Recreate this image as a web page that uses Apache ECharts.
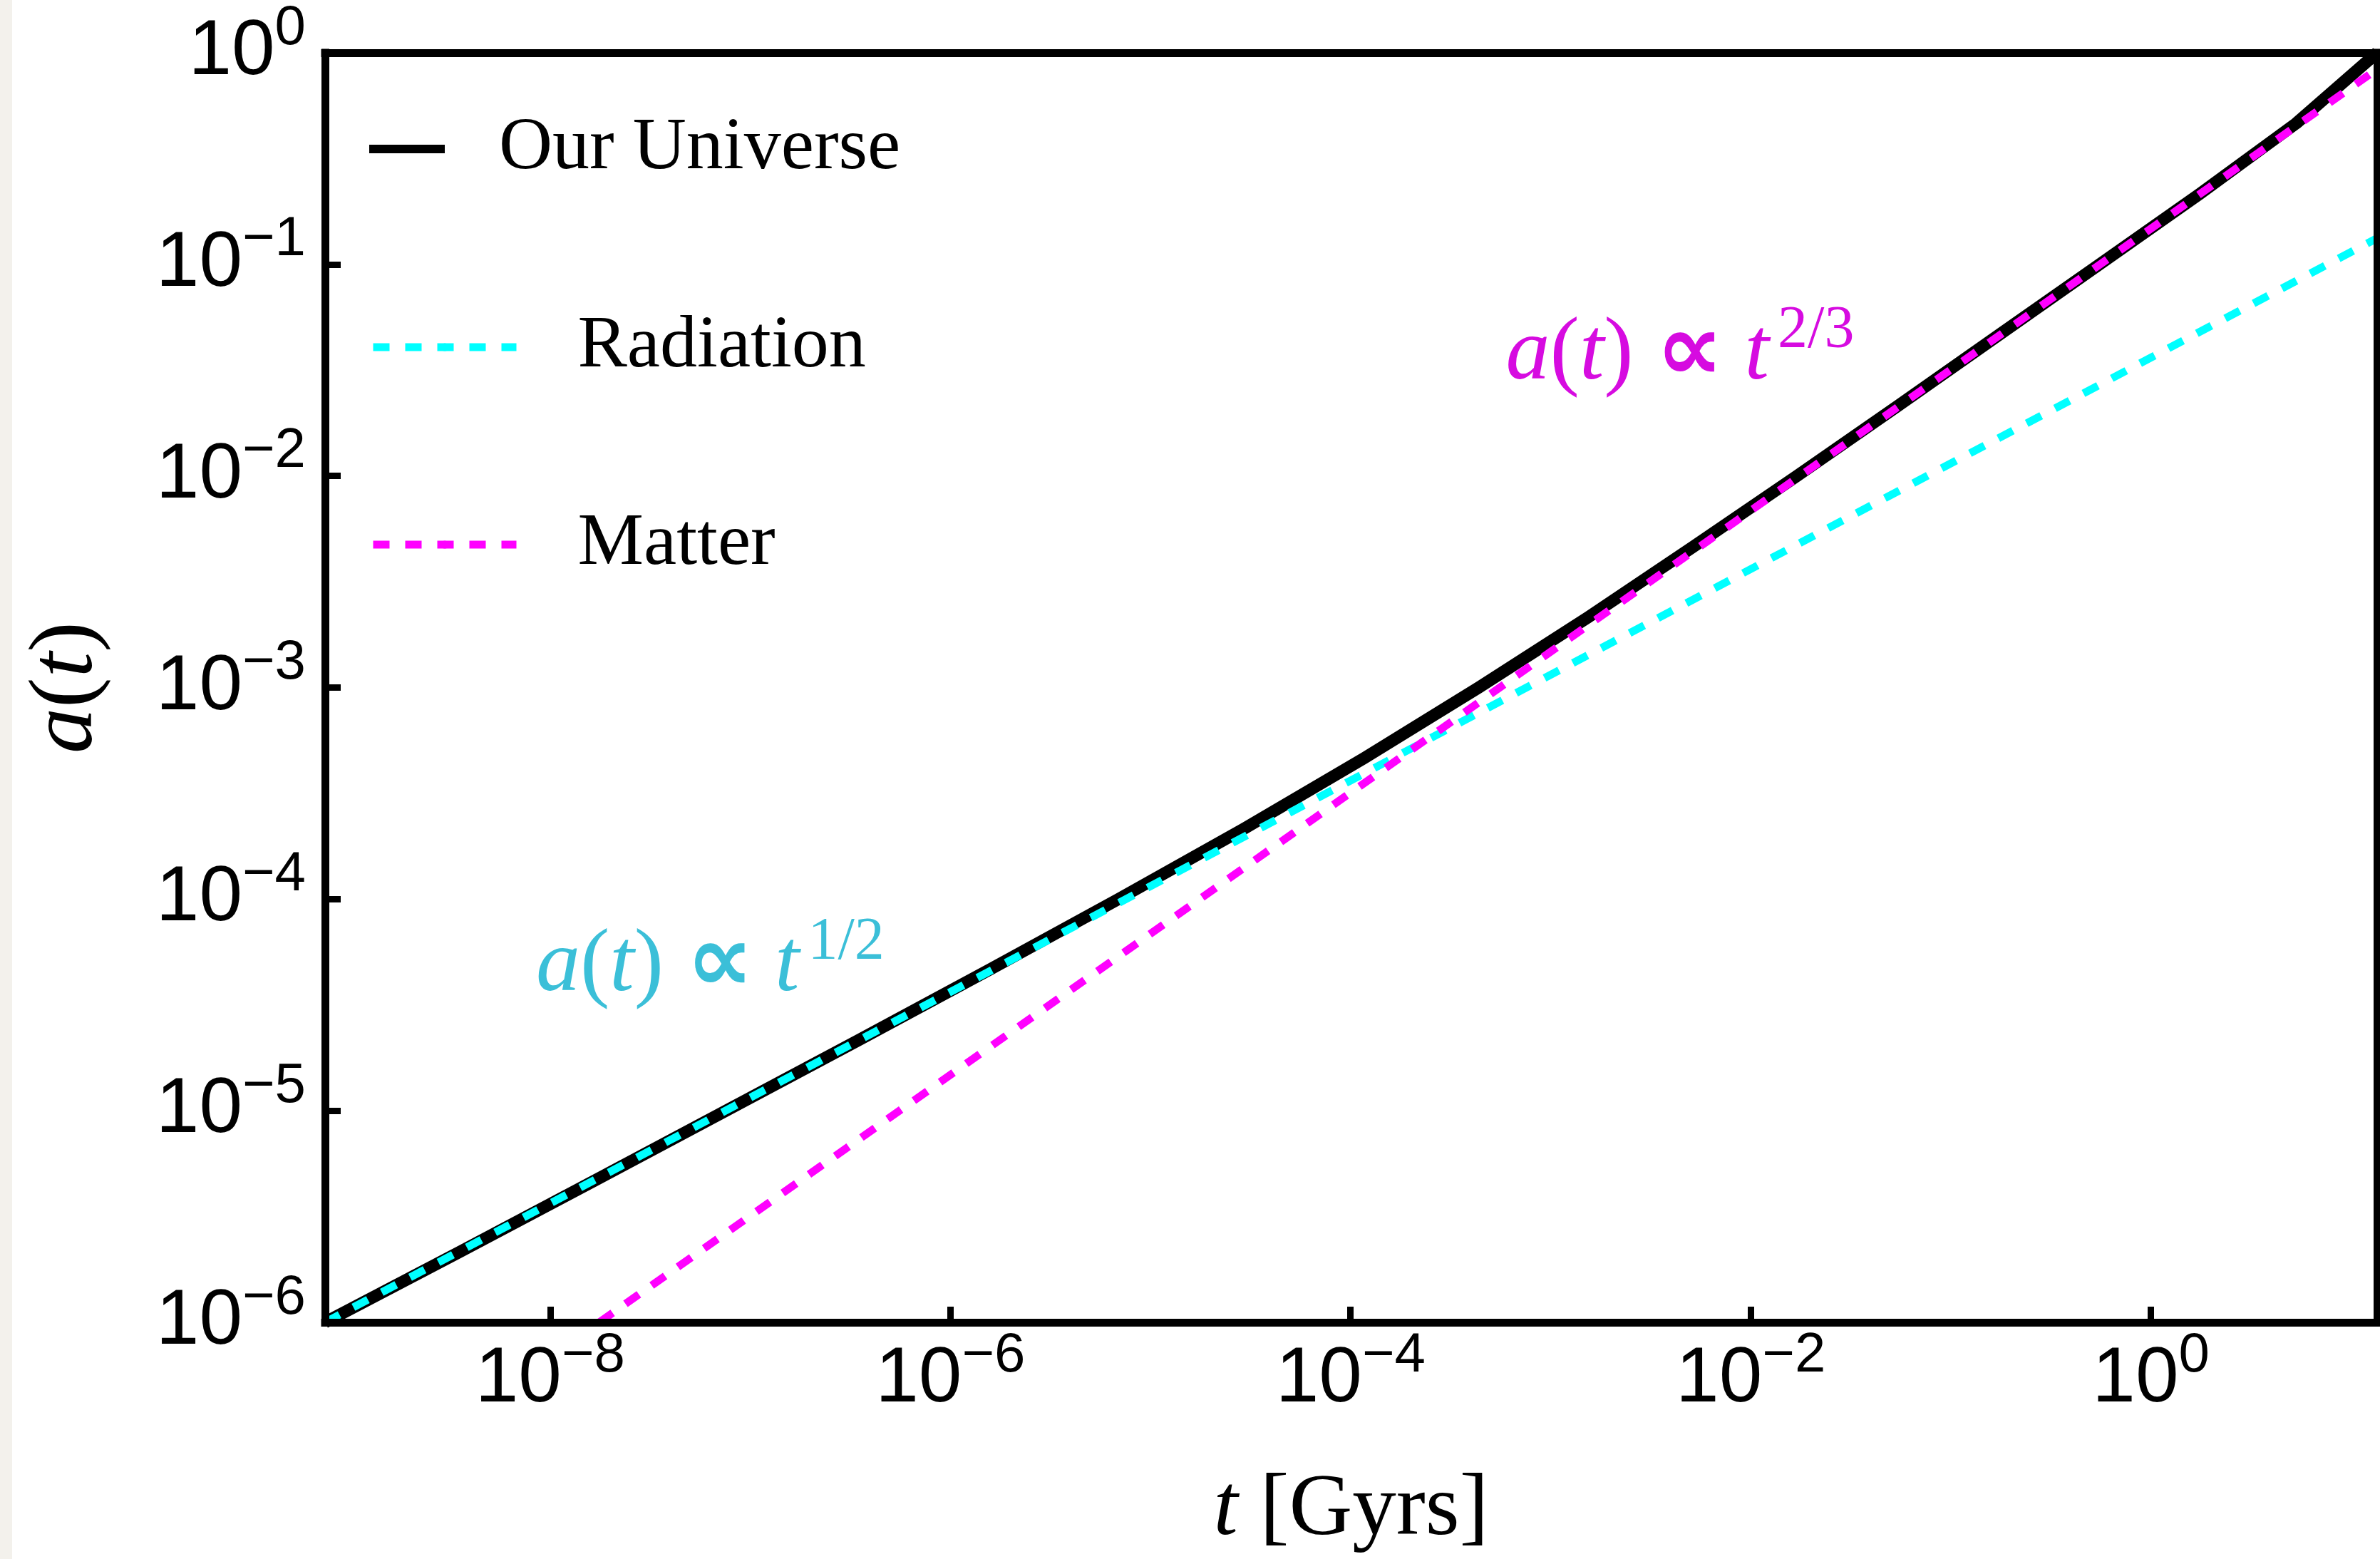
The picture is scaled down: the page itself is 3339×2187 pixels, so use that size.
<!DOCTYPE html>
<html>
<head>
<meta charset="utf-8">
<script src="https://cdn.jsdelivr.net/npm/echarts@6/dist/echarts.min.js"></script>
<style>
html,body{margin:0;padding:0;background:#ffffff;}
#chart{width:3339px;height:2187px;}
</style>
</head>
<body>
<div id="chart"></div>
<script>
// ---------------- data ----------------
const seriesNames = ['Our Universe', 'Radiation', 'Matter'];

// Our Universe: scale factor a(t) vs cosmic time t [Gyr]
const tUniverse = [7.5e-10, 3.53e-9, 1.64e-8, 7.55e-8, 3.46e-7, 1.57e-6, 6.91e-6, 2.93e-5,
                   1.17e-4, 4.37e-4, 1.54e-3, 5.18e-3, 1.70e-2, 5.46e-2, 0.174, 0.553, 1.75, 5.32, 13.5];
const aUniverse = [1.0e-6, 2.15e-6, 4.64e-6, 1.0e-5, 2.15e-5, 4.64e-5, 1.0e-4, 2.15e-4,
                   4.64e-4, 1.0e-3, 2.15e-3, 4.64e-3, 0.0100, 0.0215, 0.0464, 0.100, 0.215, 0.464, 1.0];

// Radiation-dominated asymptote a ∝ t^(1/2)
const tRadiation = [7.5e-10, 13.5];
const aRadiation = [1.0e-6, 0.133];

// Matter-dominated asymptote a ∝ t^(2/3)
const tMatter = [1.76e-8, 13.5];
const aMatter = [1.0e-6, 0.837];

// axis ranges and tick values
const xRange = [7.5e-10, 13.5];
const yRange = [1e-6, 1];
const xTicks = [1e-8, 1e-6, 1e-4, 1e-2, 1];
const yTicks = [1e-6, 1e-5, 1e-4, 1e-3, 1e-2, 1e-1, 1];

// annotation texts
const radiationNote = ['a', '(', 't', ')', '∝', 't', '1/2'];
const matterNote = ['a', '(', 't', ')', '∝', 't', '2/3'];
const xTitle = ['t', ' [Gyrs]'];
const yTitle = ['a', '(', 't', ')'];

// ---------------- chart ----------------
const zip = (xs, ys) => xs.map((x, i) => [x, ys[i]]);
const MINUS = '\u2212';
function powLabel(v) {
  const n = Math.round(Math.log10(v));
  return '{b|10}{e|' + (n < 0 ? MINUS + (-n) : String(n)) + '}';
}
const SANS = 'Liberation Sans';
const SERIF = 'Liberation Serif';
const tickRich = {
  b: { fontFamily: SANS, fontSize: 109, lineHeight: 120, color: '#000' },
  e: { fontFamily: SANS, fontSize: 78, lineHeight: 78, padding: [0, 0, 68, 0], color: '#000' }
};
function titleRich(size) {
  return {
    i: { fontFamily: SERIF, fontStyle: 'italic', fontSize: size, lineHeight: size, color: '#000' },
    n: { fontFamily: SERIF, fontSize: size, lineHeight: size, color: '#000' }
  };
}
function mathRich(color) {
  return {
    i: { fontFamily: SERIF, fontStyle: 'italic', fontSize: 124, lineHeight: 130, fill: color, color: color },
    n: { fontFamily: SERIF, fontSize: 124, lineHeight: 130, fill: color, color: color },
    p: { fontFamily: 'DejaVu Sans', fontWeight: 'bold', fontSize: 132, lineHeight: 130, padding: [0, 30, 0, 32], fill: color, color: color },
    s: { fontFamily: SERIF, fontSize: 84, lineHeight: 84, padding: [0, 0, 67, 12], fill: color, color: color }
  };
}
function mathText(p) {
  return '{i|' + p[0] + '}{n|' + p[1] + '}{i|' + p[2] + '}{n|' + p[3] + '}{p|' + p[4] + '}{i|' + p[5] + '}{s|' + p[6] + '}';
}

const frameLine = { show: true, lineStyle: { color: '#000', width: 11, cap: 'square' } };
const DASH = [23, 22];

const chart = echarts.init(document.getElementById('chart'), null, { renderer: 'canvas' });

const option = {
  animation: false,
  backgroundColor: '#ffffff',
  grid: { left: 456, top: 74, right: 4, bottom: 332, containLabel: false },
  xAxis: [
    {
      type: 'log', logBase: 10, min: xRange[0], max: xRange[1], position: 'bottom', z: 10,
      axisLine: frameLine,
      axisTick: { show: true, inside: true, length: 22, customValues: xTicks, lineStyle: { color: '#000', width: 9 } },
      axisLabel: { show: true, customValues: xTicks, formatter: powLabel, margin: 21, rich: tickRich },
      splitLine: { show: false }, minorTick: { show: false },
      name: '{i|' + xTitle[0] + '}{n|' + xTitle[1] + '}', nameLocation: 'middle', nameGap: 203,
      nameTextStyle: { rich: titleRich(123) }
    },
    {
      type: 'log', logBase: 10, min: xRange[0], max: xRange[1], position: 'top', z: 10,
      axisLine: frameLine, axisTick: { show: false }, axisLabel: { show: false }, splitLine: { show: false }
    }
  ],
  yAxis: [
    {
      type: 'log', logBase: 10, min: yRange[0], max: yRange[1], position: 'left', z: 10,
      axisLine: frameLine,
      axisTick: { show: true, inside: true, length: 22, customValues: yTicks, lineStyle: { color: '#000', width: 9 } },
      axisLabel: { show: true, customValues: yTicks, formatter: powLabel, margin: 27, rich: tickRich },
      splitLine: { show: false }, minorTick: { show: false },
      name: '{i|' + yTitle[0] + '}{n|' + yTitle[1] + '}{i|' + yTitle[2] + '}{n|' + yTitle[3] + '}',
      nameLocation: 'middle', nameGap: 298,
      nameTextStyle: { rich: titleRich(128) }
    },
    {
      type: 'log', logBase: 10, min: yRange[0], max: yRange[1], position: 'right', z: 10,
      axisLine: frameLine, axisTick: { show: false }, axisLabel: { show: false }, splitLine: { show: false }
    }
  ],
  legend: [
    {
      data: [seriesNames[0]], left: 512, top: 157, padding: 0, itemWidth: 106, itemHeight: 14,
      selectedMode: false, lineStyle: { width: 12 },
      textStyle: { fontFamily: SERIF, fontSize: 104, color: '#000', padding: [0, 0, 10, 71] }
    },
    {
      data: [seriesNames[1]], left: 518, top: 435, padding: 0, itemWidth: 201, itemHeight: 14,
      selectedMode: false, lineStyle: { width: 11 },
      textStyle: { fontFamily: SERIF, fontSize: 104, color: '#000', padding: [0, 0, 10, 81] }
    },
    {
      data: [seriesNames[2]], left: 518, top: 712, padding: 0, itemWidth: 201, itemHeight: 14,
      selectedMode: false, lineStyle: { width: 11 },
      textStyle: { fontFamily: SERIF, fontSize: 104, color: '#000', padding: [0, 0, 10, 81] }
    }
  ],
  series: [
    {
      name: seriesNames[0], type: 'line', xAxisIndex: 0, yAxisIndex: 0,
      data: zip(tUniverse, aUniverse), symbol: 'none', showSymbol: false, z: 2,
      lineStyle: { color: '#000000', width: 17, join: 'round' }, itemStyle: { color: '#000000' }
    },
    {
      name: seriesNames[1], type: 'line', xAxisIndex: 0, yAxisIndex: 0,
      data: zip(tRadiation, aRadiation), symbol: 'none', showSymbol: false, z: 3,
      lineStyle: { color: '#00ffff', width: 11, type: DASH }, itemStyle: { color: '#00ffff' }
    },
    {
      name: seriesNames[2], type: 'line', xAxisIndex: 0, yAxisIndex: 0,
      data: zip(tMatter, aMatter), symbol: 'none', showSymbol: false, z: 4,
      lineStyle: { color: '#ff00ff', width: 11, type: DASH }, itemStyle: { color: '#ff00ff' }
    }
  ],
  graphic: [
    { type: 'rect', left: 0, top: 0, shape: { width: 17, height: 2187 }, style: { fill: '#f3f1ec' }, z: -1 }
  ]
};
chart.setOption(option);

// annotations anchored in data coordinates (left edge, text middle)
const cyanAnchor = chart.convertToPixel({ gridIndex: 0 }, [8.5e-9, 4.8e-5]);
const magAnchor = chart.convertToPixel({ gridIndex: 0 }, [5.97e-4, 0.0372]);
chart.setOption({
  graphic: [
    { type: 'rect', left: 0, top: 0, shape: { width: 17, height: 2187 }, style: { fill: '#f3f1ec' }, z: -1 },
    {
      type: 'text', x: cyanAnchor[0], y: cyanAnchor[1], z: 20,
      style: { text: mathText(radiationNote), rich: mathRich('#3bbfd8'), fill: '#3bbfd8', align: 'left', verticalAlign: 'middle' }
    },
    {
      type: 'text', x: magAnchor[0], y: magAnchor[1], z: 20,
      style: { text: mathText(matterNote), rich: mathRich('#d60be0'), fill: '#d60be0', align: 'left', verticalAlign: 'middle' }
    }
  ]
});
</script>
</body>
</html>
